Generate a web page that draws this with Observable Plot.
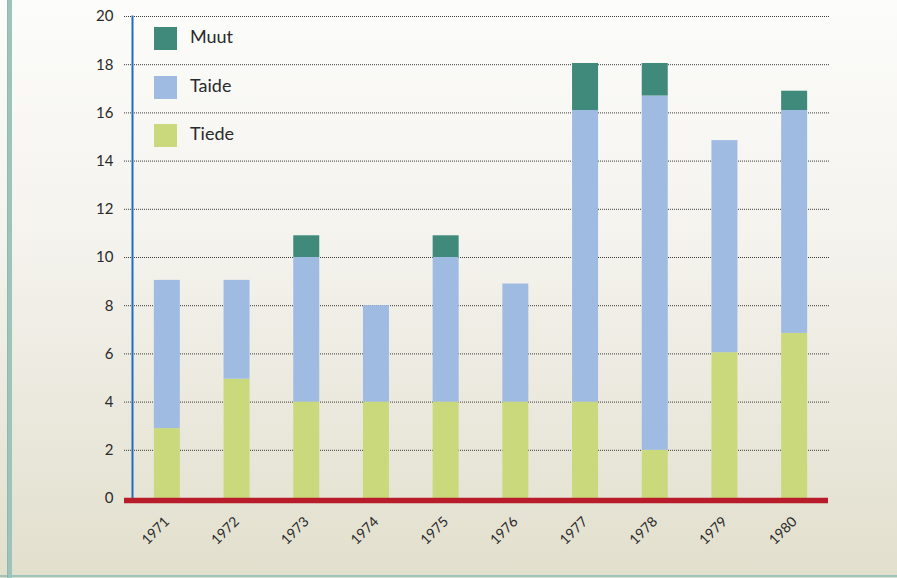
<!DOCTYPE html>
<html>
<head>
<meta charset="utf-8">
<script src="https://cdn.jsdelivr.net/npm/d3@7"></script>
<script src="https://cdn.jsdelivr.net/npm/@observablehq/plot@0.6"></script>
<style>
  html, body { margin: 0; padding: 0; background: #ffffff; }
  #wrap { position: relative; width: 897px; height: 578px; }
  .legend { position: absolute; left: 0; top: 0; font-family: Lato, "Open Sans", sans-serif; font-size: 18px; color: #2a2a2a; }
  .legend .sw { position: absolute; width: 23px; height: 23px; }
  .legend .lab { position: absolute; line-height: 23px; white-space: nowrap; }
</style>
</head>
<body>
<div id="wrap"></div>
<script>
const years = [1971, 1972, 1973, 1974, 1975, 1976, 1977, 1978, 1979, 1980];
const series = ["Tiede", "Taide", "Muut"];
const tiede = [2.9, 4.95, 4, 4, 4, 4, 4, 2, 6.05, 6.85];
const taide = [6.15, 4.1, 6, 4, 6, 4.9, 12.1, 14.7, 8.8, 9.25];
const muut  = [0, 0, 0.9, 0, 0.9, 0, 1.95, 1.35, 0, 0.8];
const yTicks = [0, 2, 4, 6, 8, 10, 12, 14, 16, 18, 20];
const colors = ["#cad97c", "#a0bbe2", "#3f8a7a"];
const legendOrder = ["Muut", "Taide", "Tiede"];

const values = [tiede, taide, muut];
const rows = [];
years.forEach((yr, i) => {
  series.forEach((s, j) => rows.push({year: yr, series: s, value: values[j][i]}));
});

const chart = Plot.plot({
  width: 897,
  height: 578,
  marginLeft: 132,
  marginRight: 68,
  marginTop: 16,
  marginBottom: 80,
  style: {
    background: "linear-gradient(to right, transparent 7px, #8fb9ae 7px, #8fb9ae 8px, #9cc4ba 8px, #9cc4ba 12px, transparent 12px), linear-gradient(to top, transparent 1px, #9cc4ba 1px, #9cc4ba 2.5px, transparent 2.5px), linear-gradient(to bottom, #fcfcfa 0%, #f4f3ee 40%, #e2dfcd 100%)",
    fontFamily: "Lato, 'Open Sans', sans-serif",
    color: "#2a2a2a"
  },
  x: { type: "band", domain: years, paddingInner: 0.627, paddingOuter: 0.3135, align: 0.5, round: false, axis: null },
  y: { domain: [0, 20], axis: null },
  color: { domain: series, range: colors },
  marks: [
    Plot.ruleY(yTicks.filter(d => d > 0), { stroke: "#3a3a3a", strokeDasharray: "1,1", strokeWidth: 1, insetLeft: -8 }),
    Plot.barY(rows, { x: "year", y: "value", fill: "series" }),
    Plot.frame({ anchor: "left", stroke: "#1f6dbd", strokeWidth: 2 }),
    Plot.ruleY([0], { stroke: "#b81c2a", strokeWidth: 5.5, insetLeft: -8, insetRight: 1, dy: 2 }),
    Plot.axisY({ ticks: yTicks, tickSize: 0, tickPadding: 19, fontSize: 15, label: null, fill: "#2a2a2a", tickFormat: d => String(d) }),
    Plot.text(years, { x: d => d, frameAnchor: "bottom", rotate: -45, textAnchor: "end", dx: 3, dy: 24, fontSize: 14, fill: "#2a2a2a", text: d => String(d) })
  ]
});

const wrap = document.getElementById("wrap");
wrap.appendChild(chart);
const legend = document.createElement("div");
legend.className = "legend";
legendOrder.forEach((name, i) => {
  const top = 27 + i * 48.5;
  const sw = document.createElement("div");
  sw.className = "sw";
  sw.style.left = "154px";
  sw.style.top = top + "px";
  sw.style.background = colors[series.indexOf(name)];
  const lab = document.createElement("div");
  lab.className = "lab";
  lab.style.left = "190px";
  lab.style.top = (top - 2) + "px";
  lab.textContent = name;
  legend.appendChild(sw);
  legend.appendChild(lab);
});
wrap.appendChild(legend);
</script>
</body>
</html>
